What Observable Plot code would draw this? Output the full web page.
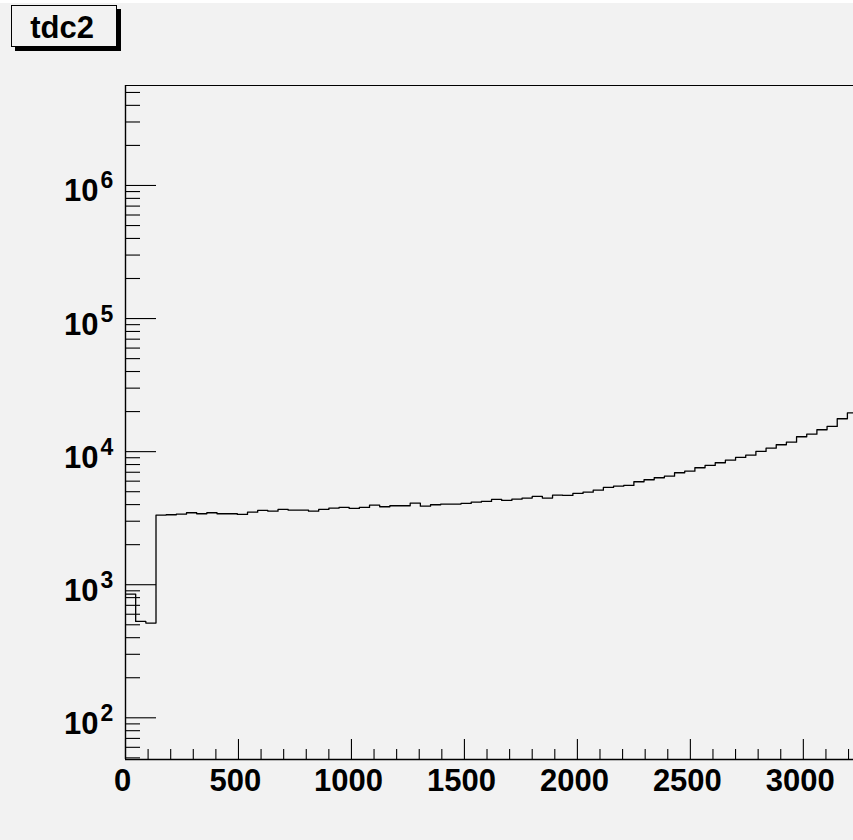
<!DOCTYPE html>
<html><head><meta charset="utf-8">
<script src="https://cdn.jsdelivr.net/npm/d3@7"></script>
<script src="https://cdn.jsdelivr.net/npm/@observablehq/plot@0.6"></script>
<style>
html,body{margin:0;padding:0;background:#f2f2f2;}
#wrap{position:relative;width:853px;height:840px;overflow:hidden;background:#f2f2f2;font-family:"Liberation Sans",Arial,Helvetica,sans-serif;}
#topstrip{position:absolute;left:0;top:0;width:853px;height:3px;background:#fff;}
#title{position:absolute;left:11px;top:5px;width:100px;padding-right:4px;height:40px;border:1px solid #000;background:#f2f2f2;box-shadow:4px 4px 0 #000;font-weight:bold;font-size:31px;line-height:44px;text-align:center;color:#000;overflow:hidden;}
#chart{position:absolute;left:0;top:0;}
</style></head>
<body><div id="wrap"><div id="chart"></div><div id="topstrip"></div><div id="title">tdc2</div></div>
<script>
// histogram "tdc2": bin width and counts
const binWidth = 45;
const counts = [
  850, 530, 515, 3334, 3357, 3392, 3475, 3415, 3475, 3415,
  3415, 3374, 3511, 3616, 3572, 3679, 3635, 3635, 3572, 3679,
  3763, 3809, 3743, 3809, 3963, 3855, 3922, 3922, 4103, 3895,
  3991, 4033, 4033, 4082, 4174, 4226, 4374, 4299, 4397, 4474,
  4607, 4474, 4712, 4688, 4853, 4963, 5137, 5383, 5506, 5573,
  5941, 6150, 6367, 6545, 6943, 7138, 7568, 7876, 8253, 8632,
  9045, 9412, 10035, 10625, 11267, 11788, 12940, 13537, 14604, 15466,
  17668, 19535
];
const xMajorTicks = [0, 500, 1000, 1500, 2000, 2500, 3000];
const yMajorTicks = [1e2, 1e3, 1e4, 1e5, 1e6];
const xDomain = [0, 3222];
const yDomain = [48.6, 5.64e6];

const W = 853, H = 840, mL = 125, mR = 0, mT = 85, mB = 81;
const fw = W - mL - mR, fh = H - mT - mB;

const hist = counts.map((c, i) => ({x: i * binWidth, y: c}));
hist.push({x: counts.length * binWidth, y: counts[counts.length - 1]});

const yMinor = [];
for (let e = 1; e <= 6; e++) for (let m = 2; m <= 9; m++) yMinor.push(m * Math.pow(10, e));
const yMinorIn = yMinor.filter(v => v >= yDomain[0] && v <= yDomain[1]);
const xMinor = d3.range(100, 3300, 100).filter(v => v % 500 !== 0 && v <= xDomain[1]);

const font = '"Liberation Sans", Arial, Helvetica, sans-serif';
const chart = Plot.plot({
  width: W, height: H,
  marginLeft: mL, marginRight: mR, marginTop: mT, marginBottom: mB,
  style: {background: "transparent", fontFamily: font, color: "#000", overflow: "visible"},
  x: {domain: xDomain, axis: null},
  y: {type: "log", domain: yDomain, axis: null},
  marks: [
    Plot.line(hist, {x: "x", y: "y", curve: "step-after", stroke: "#000", strokeWidth: 1.3, clip: true}),
    Plot.tickY(yMajorTicks, {y: d => d, insetRight: fw - 31, stroke: "#000", strokeWidth: 1.1}),
    Plot.tickY(yMinorIn, {y: d => d, insetRight: fw - 15, stroke: "#000", strokeWidth: 1.1}),
    Plot.tickX(xMajorTicks, {x: d => d, insetTop: fh - 20, stroke: "#000", strokeWidth: 1.1}),
    Plot.tickX(xMinor, {x: d => d, insetTop: fh - 10, stroke: "#000", strokeWidth: 1.1}),
    Plot.ruleX([xDomain[0]], {stroke: "#000", strokeWidth: 1.4}),
    Plot.ruleY([yDomain[0]], {stroke: "#000", strokeWidth: 1.4}),
    Plot.ruleY([yDomain[1]], {stroke: "#000", strokeWidth: 1.2}),
    Plot.text(yMajorTicks, {y: d => d, text: () => "10", frameAnchor: "left", textAnchor: "end", lineAnchor: "bottom", dx: -27, dy: 16, fontSize: 31, fontWeight: "bold", fill: "#000"}),
    Plot.text(yMajorTicks, {y: d => d, text: d => String(Math.round(Math.log10(d))), frameAnchor: "left", textAnchor: "start", lineAnchor: "bottom", dx: -25, dy: 3, fontSize: 23, fontWeight: "bold", fill: "#000"}),
    Plot.text(xMajorTicks, {x: d => d, text: d => String(d), frameAnchor: "bottom", lineAnchor: "bottom", dx: -3, dy: 31, fontSize: 31, fontWeight: "bold", fill: "#000"})
  ]
});
document.getElementById("chart").appendChild(chart);
</script>
</body></html>
